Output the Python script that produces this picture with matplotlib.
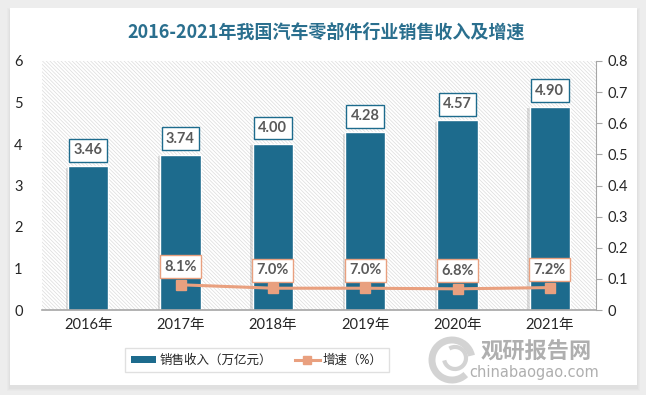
import matplotlib
matplotlib.use('Agg')
import matplotlib.pyplot as plt
import matplotlib.patheffects as pe
from matplotlib.patches import Rectangle, Arc
from matplotlib.lines import Line2D
from matplotlib.patches import Patch

plt.rcParams['font.family'] = ['Lato', 'Noto Sans CJK SC', 'DejaVu Sans']
plt.rcParams['hatch.linewidth'] = 0.5

years = ['2016年', '2017年', '2018年', '2019年', '2020年', '2021年']
revenue = [3.46, 3.74, 4.00, 4.28, 4.57, 4.90]
growth_years = ['2017年', '2018年', '2019年', '2020年', '2021年']
growth = [0.081, 0.070, 0.070, 0.068, 0.072]

bar_color = '#1D6B8D'
line_color = '#E9A07F'
label_color = '#595959'

W, H = 646, 395
fig = plt.figure(figsize=(W / 100, H / 100), dpi=100)
fig.patch.set_facecolor('#EDEDED')

# card with soft shadow
for i, a in enumerate([0.05, 0.06, 0.08]):
    d = 3 - i
    fig.patches.append(Rectangle(((10 - d) / W, (8 - d - 1) / H), (627 + 2 * d) / W, (377 + 2 * d) / H,
                                 transform=fig.transFigure, facecolor='#B0B0B0', alpha=a,
                                 edgecolor='none', zorder=-10))
fig.patches.append(Rectangle((10 / W, 10 / H), 627 / W, 377 / H, transform=fig.transFigure,
                             facecolor='white', edgecolor='none', zorder=-9))

ax = fig.add_axes([42 / W, 85 / H, 554 / W, 249 / H])
ax.set_facecolor('none')
ax.add_patch(Rectangle((0, 0), 1, 1, transform=ax.transAxes, facecolor='white',
                       edgecolor='#DCDCDC', hatch='\\\\\\\\\\\\\\\\\\', linewidth=0, zorder=0))

x = list(range(len(years)))
bars = ax.bar(x, revenue, width=0.44, color=bar_color, edgecolor='white', linewidth=1.0, zorder=2)
for b in bars:
    b.set_path_effects([pe.SimplePatchShadow(offset=(-1.5, -1), shadow_rgbFace='#909090', alpha=0.3),
                        pe.Normal()])
for xi, v in zip(x, revenue):
    ax.annotate(f'{v:.2f}', (xi, v), xytext=(0, 11.5), textcoords='offset points',
                ha='center', va='center', fontsize=10.5, fontweight='bold', color=label_color,
                bbox=dict(boxstyle='square,pad=0.3', facecolor='white', edgecolor=bar_color, linewidth=1),
                zorder=5)

ax.set_xlim(-0.5, 5.5)
ax.set_ylim(0, 6)
ax.set_yticks(range(0, 7))
ax.set_xticks(x)
ax.set_xticklabels(years)
for s in ['top', 'left', 'right']:
    ax.spines[s].set_visible(False)
ax.spines['bottom'].set_color('#A6A6A6')
ax.spines['bottom'].set_linewidth(1.2)
ax.tick_params(axis='y', length=0, labelsize=10.5, pad=14, labelcolor='#262626')
ax.tick_params(axis='x', length=0, labelsize=10.5, pad=6, labelcolor='#262626')

ax2 = ax.twinx()
gx = [years.index(y) for y in growth_years]
ax2.plot(gx, growth, color=line_color, linewidth=2.2, marker='s', markersize=7, zorder=4)
for xi, v in zip(gx, growth):
    ax2.annotate(f'{v * 100:.1f}%', (xi, v), xytext=(0, 13), textcoords='offset points',
                 ha='center', va='center', fontsize=10.5, fontweight='bold', color=label_color,
                 bbox=dict(boxstyle='square,pad=0.3', facecolor='white', edgecolor=line_color, linewidth=1),
                 zorder=5)
ax2.set_ylim(0, 0.8)
ax2.set_yticks([i / 10 for i in range(9)])
ax2.set_yticklabels(['0'] + [f'{i / 10:.1f}' for i in range(1, 9)])
for s in ['top', 'left', 'bottom']:
    ax2.spines[s].set_visible(False)
ax2.spines['right'].set_color('#A6A6A6')
ax2.tick_params(axis='y', direction='out', length=4, color='#A6A6A6', labelsize=10.5,
                labelcolor='#262626', pad=4)

fig.text(326 / W, 1 - 32 / H, '2016-2021年我国汽车零部件行业销售收入及增速', ha='center', va='center',
         fontsize=13, fontweight='bold', color='#2A6F8E', family=['Noto Sans CJK SC'])

handles = [Patch(facecolor=bar_color, edgecolor='none'),
           Line2D([0], [0], color=line_color, linewidth=2.2, marker='s', markersize=6)]
leg = fig.legend(handles, ['销售收入（万亿元）', '增速（%）'], loc='center',
                 bbox_to_anchor=(257 / W, 1 - 360 / H), ncol=2, fontsize=9, frameon=True,
                 fancybox=False, edgecolor='#D9D9D9', handlelength=2.0, handleheight=0.5,
                 handletextpad=0.25, columnspacing=1.8, borderpad=0.5)
leg.get_frame().set_linewidth(1)
for t in leg.get_texts():
    t.set_color('#262626')

# watermark
fig.patches.append(Arc((452 / W, 1 - 360 / H), 40 / W, 40 / H, theta1=20, theta2=300,
                       transform=fig.transFigure, color='#C8C8C8', linewidth=5, alpha=0.8, zorder=10))
fig.patches.append(Arc((455 / W, 1 - 358 / H), 22 / W, 22 / H, theta1=200, theta2=110,
                       transform=fig.transFigure, color='#C8C8C8', linewidth=3, alpha=0.8, zorder=10))
fig.text(536 / W, 1 - 352 / H, '观研报告网', ha='center', va='center', fontsize=16,
         fontweight='bold', color='#A6A6A6', alpha=0.9, family=['Noto Sans CJK SC'], zorder=10)
fig.text(534 / W, 1 - 372 / H, 'chinabaogao.com', ha='center', va='center', fontsize=10.5,
         color='#A6A6A6', alpha=0.9, family=['DejaVu Sans'], zorder=10)

fig.savefig('out.png', dpi=100, facecolor=fig.get_facecolor())
